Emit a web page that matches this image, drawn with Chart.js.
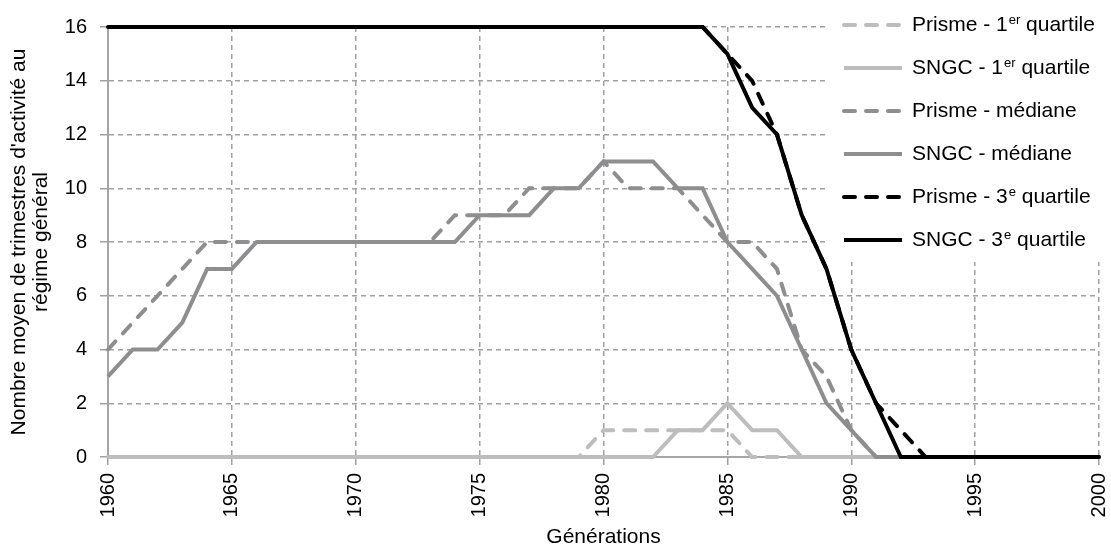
<!DOCTYPE html>
<html>
<head>
<meta charset="utf-8">
<script src="https://cdn.jsdelivr.net/npm/chart.js@4"></script>
<style>
  body { margin: 0; background: #fff; }
  canvas { display: block; }
</style>
</head>
<body>
<canvas id="chart" width="1111" height="550"></canvas>
<script>
// Générations
const years = [1960, 1961, 1962, 1963, 1964, 1965, 1966, 1967, 1968, 1969,
               1970, 1971, 1972, 1973, 1974, 1975, 1976, 1977, 1978, 1979,
               1980, 1981, 1982, 1983, 1984, 1985, 1986, 1987, 1988, 1989,
               1990, 1991, 1992, 1993, 1994, 1995, 1996, 1997, 1998, 1999, 2000];

const prismeQ1 = [0, 0, 0, 0, 0, 0, 0, 0, 0, 0,
                  0, 0, 0, 0, 0, 0, 0, 0, 0, 0,
                  1, 1, 1, 1, 1, 1, 0, 0, 0, 0,
                  0, 0, 0, 0, 0, 0, 0, 0, 0, 0, 0];
const sngcQ1 = [0, 0, 0, 0, 0, 0, 0, 0, 0, 0,
                0, 0, 0, 0, 0, 0, 0, 0, 0, 0,
                0, 0, 0, 1, 1, 2, 1, 1, 0, 0,
                0, 0, 0, 0, 0, 0, 0, 0, 0, 0, 0];
const prismeMed = [4, 5, 6, 7, 8, 8, 8, 8, 8, 8,
                   8, 8, 8, 8, 9, 9, 9, 10, 10, 10,
                   11, 10, 10, 10, 9, 8, 8, 7, 4, 3,
                   1, 0, 0, 0, 0, 0, 0, 0, 0, 0, 0];
const sngcMed = [3, 4, 4, 5, 7, 7, 8, 8, 8, 8,
                 8, 8, 8, 8, 8, 9, 9, 9, 10, 10,
                 11, 11, 11, 10, 10, 8, 7, 6, 4, 2,
                 1, 0, 0, 0, 0, 0, 0, 0, 0, 0, 0];
const prismeQ3 = [16, 16, 16, 16, 16, 16, 16, 16, 16, 16,
                  16, 16, 16, 16, 16, 16, 16, 16, 16, 16,
                  16, 16, 16, 16, 16, 15, 14, 12, 9, 7,
                  4, 2, 1, 0, 0, 0, 0, 0, 0, 0, 0];
const sngcQ3 = [16, 16, 16, 16, 16, 16, 16, 16, 16, 16,
                16, 16, 16, 16, 16, 16, 16, 16, 16, 16,
                16, 16, 16, 16, 16, 15, 13, 12, 9, 7,
                4, 2, 0, 0, 0, 0, 0, 0, 0, 0, 0];

// legend labels: [text, superscript, text]
const labels = [
  ['Prisme - 1', 'er', ' quartile'],
  ['SNGC - 1', 'er', ' quartile'],
  ['Prisme - médiane', '', ''],
  ['SNGC - médiane', '', ''],
  ['Prisme - 3', 'e', ' quartile'],
  ['SNGC - 3', 'e', ' quartile']
];

const FONT = '"Liberation Sans", Arial, sans-serif';
const LIGHT = '#bdbdbd';
const MID = '#8e8e90';
const DARK = '#000000';
const DASH = [11, 11];

function pts(values) {
  return values.map((v, i) => ({ x: years[i], y: v }));
}

function line(idx, values, color, dashed, order) {
  return {
    label: labels[idx].join(''),
    data: pts(values),
    borderColor: color,
    backgroundColor: color,
    borderWidth: 4,
    borderDash: dashed ? DASH : [],
    borderCapStyle: dashed ? 'round' : 'butt',
    pointRadius: 0,
    tension: 0,
    clip: 4,
    order: order
  };
}

// white legend box drawn over the grid, entries on top
const legendBox = {
  id: 'legendBox',
  beforeDatasetsDraw(chart) {
    const ctx = chart.ctx;
    ctx.save();
    ctx.fillStyle = '#fff';
    ctx.fillRect(828, 0, 283, 262);
    ctx.restore();
  },
  afterDatasetsDraw(chart) {
    const ctx = chart.ctx;
    ctx.save();
    chart.data.datasets.forEach((ds, i) => {
      const y = 25 + i * 43;
      ctx.strokeStyle = ds.borderColor;
      ctx.lineWidth = 4;
      ctx.lineCap = ds.borderCapStyle;
      ctx.setLineDash(ds.borderDash);
      ctx.beginPath();
      ctx.moveTo(844, y);
      ctx.lineTo(902, y);
      ctx.stroke();

      const parts = labels[i];
      let x = 912;
      ctx.fillStyle = '#000';
      ctx.textBaseline = 'middle';
      ctx.font = '21px ' + FONT;
      ctx.fillText(parts[0], x, y);
      x += ctx.measureText(parts[0]).width;
      if (parts[1]) {
        ctx.font = '13px ' + FONT;
        ctx.fillText(parts[1], x + 1, y - 5);
        x += ctx.measureText(parts[1]).width + 1;
        ctx.font = '21px ' + FONT;
        ctx.fillText(parts[2], x, y);
      }
    });
    ctx.restore();
  }
};

const ctx = document.getElementById('chart').getContext('2d');
const chart = new Chart(ctx, {
  type: 'line',
  data: {
    datasets: [
      line(0, prismeQ1, LIGHT, true, 6),
      line(1, sngcQ1, LIGHT, false, 5),
      line(2, prismeMed, MID, true, 4),
      line(3, sngcMed, MID, false, 3),
      line(4, prismeQ3, DARK, true, 2),
      line(5, sngcQ3, DARK, false, 1)
    ]
  },
  options: {
    responsive: false,
    animation: false,
    layout: { padding: { top: 27, right: 12, left: 0, bottom: 0 } },
    plugins: {
      legend: { display: false },
      tooltip: { enabled: false }
    },
    scales: {
      x: {
        type: 'linear',
        min: 1960,
        max: 2000,
        afterFit(scale) {
          scale.height = 93;
          scale.paddingLeft = 0;
          scale.paddingRight = 0;
        },
        ticks: {
          stepSize: 5,
          minRotation: 90,
          maxRotation: 90,
          padding: 8,
          color: '#000',
          font: { family: FONT, size: 20 },
          callback: v => String(v)
        },
        grid: { color: '#a0a0a0', lineWidth: 1.5, tickLength: 8, tickColor: '#a0a0a0' },
        border: { color: '#a6a6a6', width: 2, dash: [5, 4] },
        title: {
          display: true,
          text: 'Générations',
          color: '#000',
          font: { family: FONT, size: 21, lineHeight: 1 },
          padding: { top: 4, bottom: 2 }
        }
      },
      y: {
        min: 0,
        max: 16,
        afterFit(scale) { scale.width = 108; },
        ticks: {
          stepSize: 2,
          padding: 13,
          color: '#000',
          font: { family: FONT, size: 20 }
        },
        grid: { color: '#a0a0a0', lineWidth: 1.5, tickLength: 8, tickColor: '#a0a0a0' },
        border: { color: '#a6a6a6', width: 2, dash: [5, 4] },
        title: {
          display: true,
          text: ["Nombre moyen de trimestres d'activité au", 'régime général'],
          color: '#000',
          font: { family: FONT, size: 21, lineHeight: 1.05 },
          padding: { top: 8, bottom: 0 }
        }
      }
    }
  },
  plugins: [legendBox]
});
</script>
</body>
</html>
